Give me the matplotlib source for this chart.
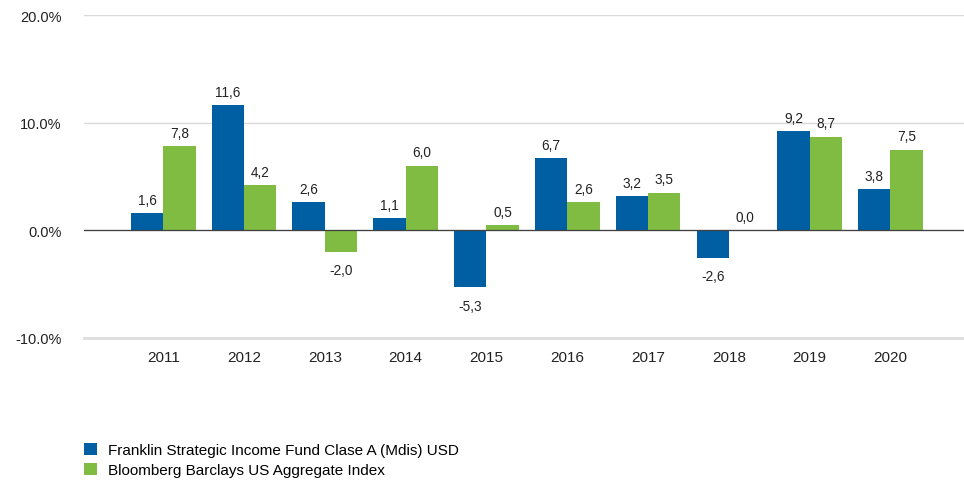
import numpy as np
import matplotlib.pyplot as plt
from matplotlib.patches import Patch

plt.rcParams['font.family'] = ['Liberation Sans', 'DejaVu Sans']

years = ["2011", "2012", "2013", "2014", "2015", "2016", "2017", "2018", "2019", "2020"]
fund = [1.6, 11.6, 2.6, 1.1, -5.3, 6.7, 3.2, -2.6, 9.2, 3.8]
index = [7.8, 4.2, -2.0, 6.0, 0.5, 2.6, 3.5, 0.0, 8.7, 7.5]
yticks = [-10, 0, 10, 20]
names = ["Franklin Strategic Income Fund Clase A (Mdis) USD",
         "Bloomberg Barclays US Aggregate Index"]

BLUE = "#005ea2"
GREEN = "#7fbc41"

fig = plt.figure(figsize=(9.64, 4.81), dpi=100)
ax = fig.add_axes([84 / 964, 1 - 339 / 481, 1 - 84 / 964, (339 - 16) / 481])

x = np.arange(len(years))
w = 0.4
b1 = ax.bar(x - w / 2, fund, w, color=BLUE, zorder=3)
b2 = ax.bar(x + w / 2, index, w, color=GREEN, zorder=3)

# value labels: small gap above positive bars, larger gap below negative ones
for bars, vals in [(b1, fund), (b2, index)]:
    for bar, v in zip(bars, vals):
        txt = f"{v:.1f}".replace(".", ",")
        cx = bar.get_x() + bar.get_width() / 2
        if v >= 0:
            ax.annotate(txt, (cx, v), xytext=(0, 4.5), textcoords="offset points",
                        ha="center", va="bottom", fontsize=9.8, color="#222222")
        else:
            ax.annotate(txt, (cx, v), xytext=(0, -8), textcoords="offset points",
                        ha="center", va="top", fontsize=9.8, color="#222222")

ax.set_ylim(-10, 20)
ax.set_xlim(-0.98, 9.91)
ax.set_yticks(yticks)
ax.set_yticklabels([f"{v:.1f}%" for v in yticks], fontsize=10.5, color="#222222")
ax.set_xticks(x)
ax.set_xticklabels(years, fontsize=11, color="#222222")
ax.tick_params(axis="y", length=0, pad=16)
ax.tick_params(axis="x", length=0, pad=9)

for s in ax.spines.values():
    s.set_visible(False)
ax.yaxis.grid(True, color="#d9d9d9", lw=1.0, zorder=0)
ax.axhline(-10, color="#e0e0e0", lw=2.2, zorder=1, clip_on=False)
ax.axhline(0, color="#404040", lw=0.9, zorder=4)

handles = [Patch(facecolor=BLUE, label=names[0]), Patch(facecolor=GREEN, label=names[1])]
fig.legend(handles=handles, loc="upper left", bbox_to_anchor=(84 / 964, 1 - 444 / 481),
           frameon=False, fontsize=11, handlelength=0.85, handleheight=0.85,
           handletextpad=0.75, labelspacing=0.35, borderaxespad=0, borderpad=0)

fig.savefig("out.png", dpi=100)
